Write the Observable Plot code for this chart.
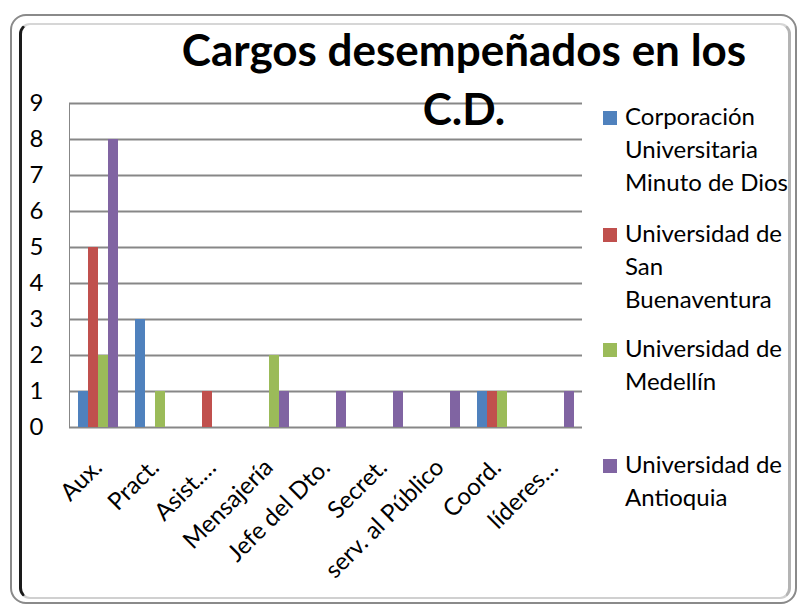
<!DOCTYPE html>
<html>
<head>
<meta charset="utf-8">
<script src="https://cdn.jsdelivr.net/npm/d3@7"></script>
<script src="https://cdn.jsdelivr.net/npm/@observablehq/plot@0.6"></script>
<style>
  html, body { margin: 0; padding: 0; background: #fff; }
  #wrap { position: relative; width: 801px; height: 610px; overflow: hidden; font-family: Lato, "Open Sans", sans-serif; }
  #outer { position: absolute; left: 10px; top: 14px; width: 787px; height: 590px; box-sizing: border-box;
           border: 2px solid #8a8a8a; border-radius: 16px; }
  #inner { position: absolute; left: 19px; top: 23px; width: 772px; height: 576px; box-sizing: border-box;
           border-left: 3px solid #1a1a1a; border-top: 2px solid #d6d6d6; border-right: 3px solid #b4b4b4;
           border-bottom: 2px solid #d0d0d0; border-radius: 11px; }
  #chart { position: absolute; left: 0; top: 0; }
  #chart svg text { fill: #000 !important; }
  #title { position: absolute; left: 164px; top: 20px; width: 600px; text-align: center; font-weight: 700;
           font-size: 44px; line-height: 59px; color: #000; }
  .item { position: absolute; left: 625px; font-size: 24px; line-height: 33px; color: #000; white-space: nowrap; }
  .sw { position: absolute; left: -22px; width: 14px; height: 14px; }
</style>
</head>
<body>
<div id="wrap">
  <div id="outer"></div>
  <div id="inner"></div>
  <div id="chart"></div>
  <div id="title">Cargos desempeñados en los<br>C.D.</div>
  <div id="legend"></div>
</div>
<script>
const categories = ["Aux.", "Pract.", "Asist.…", "Mensajería", "Jefe del Dto.", "Secret.", "serv. al Público", "Coord.", "líderes…"];
const series = ["Corporación Universitaria Minuto de Dios", "Universidad de San Buenaventura", "Universidad de Medellín", "Universidad de Antioquia"];
const legendLines = [["Corporación", "Universitaria", "Minuto de Dios"], ["Universidad de", "San", "Buenaventura"], ["Universidad de", "Medellín"], ["Universidad de", "Antioquia"]];
const minutoDeDios   = [1, 3, 0, 0, 0, 0, 0, 1, 0];
const sanBuenaventura = [5, 0, 1, 0, 0, 0, 0, 1, 0];
const medellin       = [2, 1, 0, 2, 0, 0, 0, 1, 0];
const antioquia      = [8, 0, 0, 1, 1, 1, 1, 0, 1];
const colors = ["#4F81BD", "#C0504D", "#9BBB59", "#8064A2"];
const yTicks = [0, 1, 2, 3, 4, 5, 6, 7, 8, 9];

const seriesValues = [minutoDeDios, sanBuenaventura, medellin, antioquia];
const table = [];
categories.forEach((c, i) => {
  series.forEach((s, j) => table.push({category: c, series: s, value: seriesValues[j][i]}));
});

const chart = Plot.plot({
  width: 801,
  height: 610,
  marginLeft: 65,
  marginRight: 216,
  marginTop: 103,
  marginBottom: 183,
  style: {fontFamily: "Lato, 'Open Sans', sans-serif", fontSize: "24px", background: "transparent", color: "#878787", overflow: "visible"},
  facet: {data: table, x: "category"},
  fx: {domain: categories, padding: 0, label: null, tickRotate: -45, tickSize: 0, tickPadding: 36, axis: "bottom"},
  x: {domain: series, axis: null, paddingInner: 0, paddingOuter: 0.75},
  y: {domain: [0, 9], ticks: yTicks, tickSize: 0, tickPadding: 26, label: null, line: true, tickFormat: d => String(d)},
  color: {domain: series, range: colors},
  marks: [
    Plot.ruleY(yTicks, {stroke: "#878787", strokeWidth: 2}),
    Plot.barY(table, {x: "series", y: "value", fill: "series"})
  ]
});
document.getElementById("chart").appendChild(chart);

const legend = document.getElementById("legend");
const legendTops = [99, 216, 331, 447];
legendLines.forEach((lines, j) => {
  const div = document.createElement("div");
  div.className = "item";
  div.style.top = legendTops[j] + "px";
  const sw = document.createElement("span");
  sw.className = "sw";
  sw.style.background = colors[j];
  sw.style.top = "12px";
  div.appendChild(sw);
  div.appendChild(document.createTextNode(lines[0]));
  lines.slice(1).forEach(l => { div.appendChild(document.createElement("br")); div.appendChild(document.createTextNode(l)); });
  legend.appendChild(div);
});
</script>
</body>
</html>
